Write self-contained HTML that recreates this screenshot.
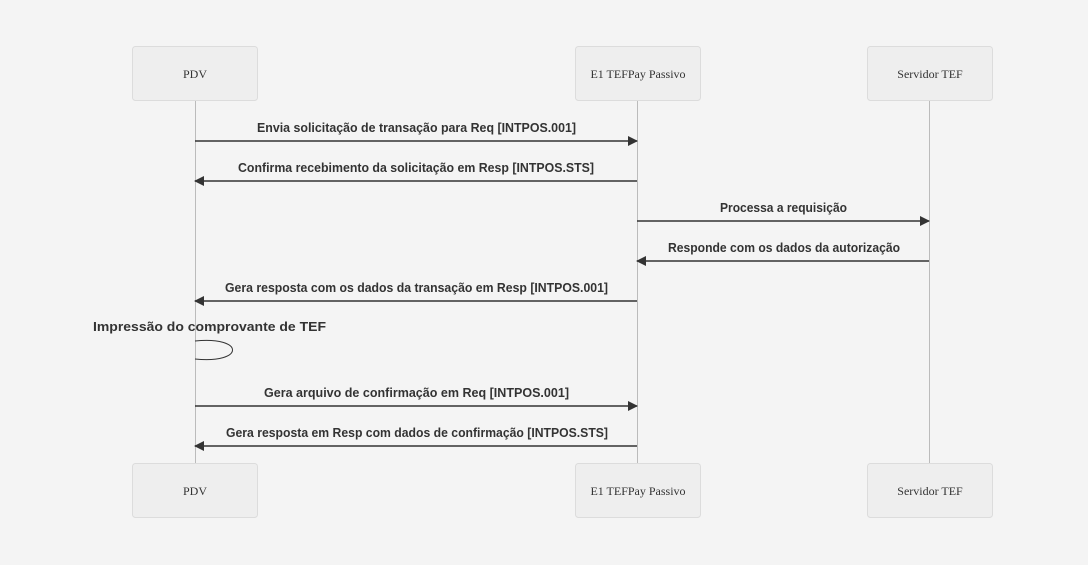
<!DOCTYPE html>
<html><head><meta charset="utf-8"><style>
html,body{margin:0;padding:0;background:#f4f4f4;}
svg{display:block;}
.a{font-family:"Liberation Serif",serif;font-size:12px;fill:#333;}
.m{font-family:"Liberation Sans",sans-serif;font-size:12.5px;font-weight:bold;fill:#333;}
</style></head><body>
<svg width="1088" height="565" viewBox="0 0 1088 565" xmlns="http://www.w3.org/2000/svg">
<defs><marker id="ar" markerWidth="10" markerHeight="10" refX="9" refY="5" orient="auto" markerUnits="userSpaceOnUse"><path d="M0,0 L10,5 L0,10 z" fill="#333"/></marker></defs>
<rect width="1088" height="565" fill="#f4f4f4"/>
<g stroke="#bbb" stroke-width="1">
<line x1="195.5" y1="101" x2="195.5" y2="463"/>
<line x1="637.5" y1="101" x2="637.5" y2="463"/>
<line x1="929.5" y1="101" x2="929.5" y2="463"/>
</g>
<g fill="#eeeeee" stroke="#dcdcdc" stroke-width="1">
<rect x="132.5" y="46.5" width="125" height="54" rx="3"/>
<rect x="575.5" y="46.5" width="125" height="54" rx="3"/>
<rect x="867.5" y="46.5" width="125" height="54" rx="3"/>
<rect x="132.5" y="463.5" width="125" height="54" rx="3"/>
<rect x="575.5" y="463.5" width="125" height="54" rx="3"/>
<rect x="867.5" y="463.5" width="125" height="54" rx="3"/>
</g>
<g class="a" text-anchor="middle">
<text x="195" y="78">PDV</text>
<text x="638" y="78">E1 TEFPay Passivo</text>
<text x="930" y="78">Servidor TEF</text>
<text x="195" y="495">PDV</text>
<text x="638" y="495">E1 TEFPay Passivo</text>
<text x="930" y="495">Servidor TEF</text>
</g>
<g stroke="#333" stroke-width="1.5" marker-end="url(#ar)">
<line x1="195" y1="141" x2="637" y2="141"/>
<line x1="637" y1="181" x2="195" y2="181"/>
<line x1="637" y1="221" x2="929" y2="221"/>
<line x1="929" y1="261" x2="637" y2="261"/>
<line x1="637" y1="301" x2="195" y2="301"/>
<line x1="195" y1="406" x2="637" y2="406"/>
<line x1="637" y1="446" x2="195" y2="446"/>
</g>
<path d="M195,341 C245,336 245,364 195,359" fill="none" stroke="#333" stroke-width="1"/>
<g class="m">
<text x="257" y="132" textLength="319" lengthAdjust="spacingAndGlyphs">Envia solicitação de transação para Req [INTPOS.001]</text>
<text x="238" y="172" textLength="356" lengthAdjust="spacingAndGlyphs">Confirma recebimento da solicitação em Resp [INTPOS.STS]</text>
<text x="720" y="212" textLength="127" lengthAdjust="spacingAndGlyphs">Processa a requisição</text>
<text x="668" y="252" textLength="232" lengthAdjust="spacingAndGlyphs">Responde com os dados da autorização</text>
<text x="225" y="292" textLength="383" lengthAdjust="spacingAndGlyphs">Gera resposta com os dados da transação em Resp [INTPOS.001]</text>
<text x="93" y="331" textLength="233" lengthAdjust="spacingAndGlyphs">Impressão do comprovante de TEF</text>
<text x="264" y="397" textLength="305" lengthAdjust="spacingAndGlyphs">Gera arquivo de confirmação em Req [INTPOS.001]</text>
<text x="226" y="437" textLength="382" lengthAdjust="spacingAndGlyphs">Gera resposta em Resp com dados de confirmação [INTPOS.STS]</text>
</g>
</svg>
</body></html>
